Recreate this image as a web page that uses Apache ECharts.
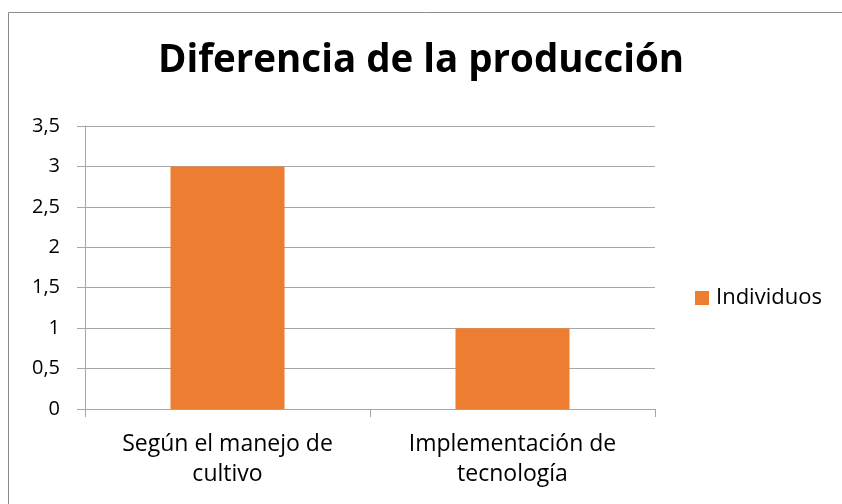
<!DOCTYPE html>
<html>
<head>
<meta charset="utf-8">
<script src="https://cdn.jsdelivr.net/npm/echarts@6/dist/echarts.min.js"></script>
<style>
  html, body { margin: 0; padding: 0; background: #fff; }
  #chart { width: 842px; height: 504px; }
</style>
</head>
<body>
<div id="chart"></div>
<script>
const categories = ['Según el manejo de\ncultivo', 'Implementación de\ntecnología']
const individuos = [3, 1]
const yTicks = { min: 0, max: 3.5, interval: 0.5 }

const font = '"Open Sans", "Noto Sans", sans-serif'
const axisGray = '#a6a6a6'

const chart = echarts.init(document.getElementById('chart'))
chart.setOption({
  animation: false,
  textStyle: { fontFamily: font },
  graphic: [{
    type: 'rect',
    shape: { x: 8.5, y: 12.5, width: 900, height: 600 },
    style: { fill: 'none', stroke: '#8c8c8c', lineWidth: 1 },
    silent: true
  }],
  title: {
    text: 'Diferencia de la producción',
    left: 'center',
    top: 37,
    textStyle: { fontFamily: font, fontWeight: 'bold', fontSize: 38.5, color: '#000' }
  },
  legend: {
    data: ['Individuos'],
    orient: 'vertical',
    left: 690,
    top: 282,
    icon: 'rect',
    itemWidth: 14,
    itemHeight: 14,
    textStyle: { fontFamily: font, fontSize: 22, color: '#000', padding: [0, 0, 0, 2] }
  },
  grid: { left: 85, right: 187, top: 126, bottom: 95, containLabel: false },
  xAxis: {
    type: 'category',
    data: categories,
    axisLine: { lineStyle: { color: axisGray } },
    axisTick: { show: true, length: 8, alignWithLabel: false, lineStyle: { color: axisGray } },
    axisLabel: { fontFamily: font, fontSize: 23, color: '#000', margin: 20, lineHeight: 30 }
  },
  yAxis: {
    type: 'value',
    min: yTicks.min,
    max: yTicks.max,
    interval: yTicks.interval,
    axisLine: { show: true, lineStyle: { color: axisGray } },
    axisTick: { show: true, length: 8, lineStyle: { color: axisGray } },
    splitLine: { lineStyle: { color: axisGray } },
    axisLabel: {
      fontFamily: font, fontSize: 20, color: '#000', margin: 25,
      formatter: v => String(v).replace('.', ',')
    }
  },
  series: [{
    name: 'Individuos',
    type: 'bar',
    data: individuos,
    barWidth: '40%',
    itemStyle: { color: '#ED7D31' }
  }]
})
</script>
</body>
</html>
